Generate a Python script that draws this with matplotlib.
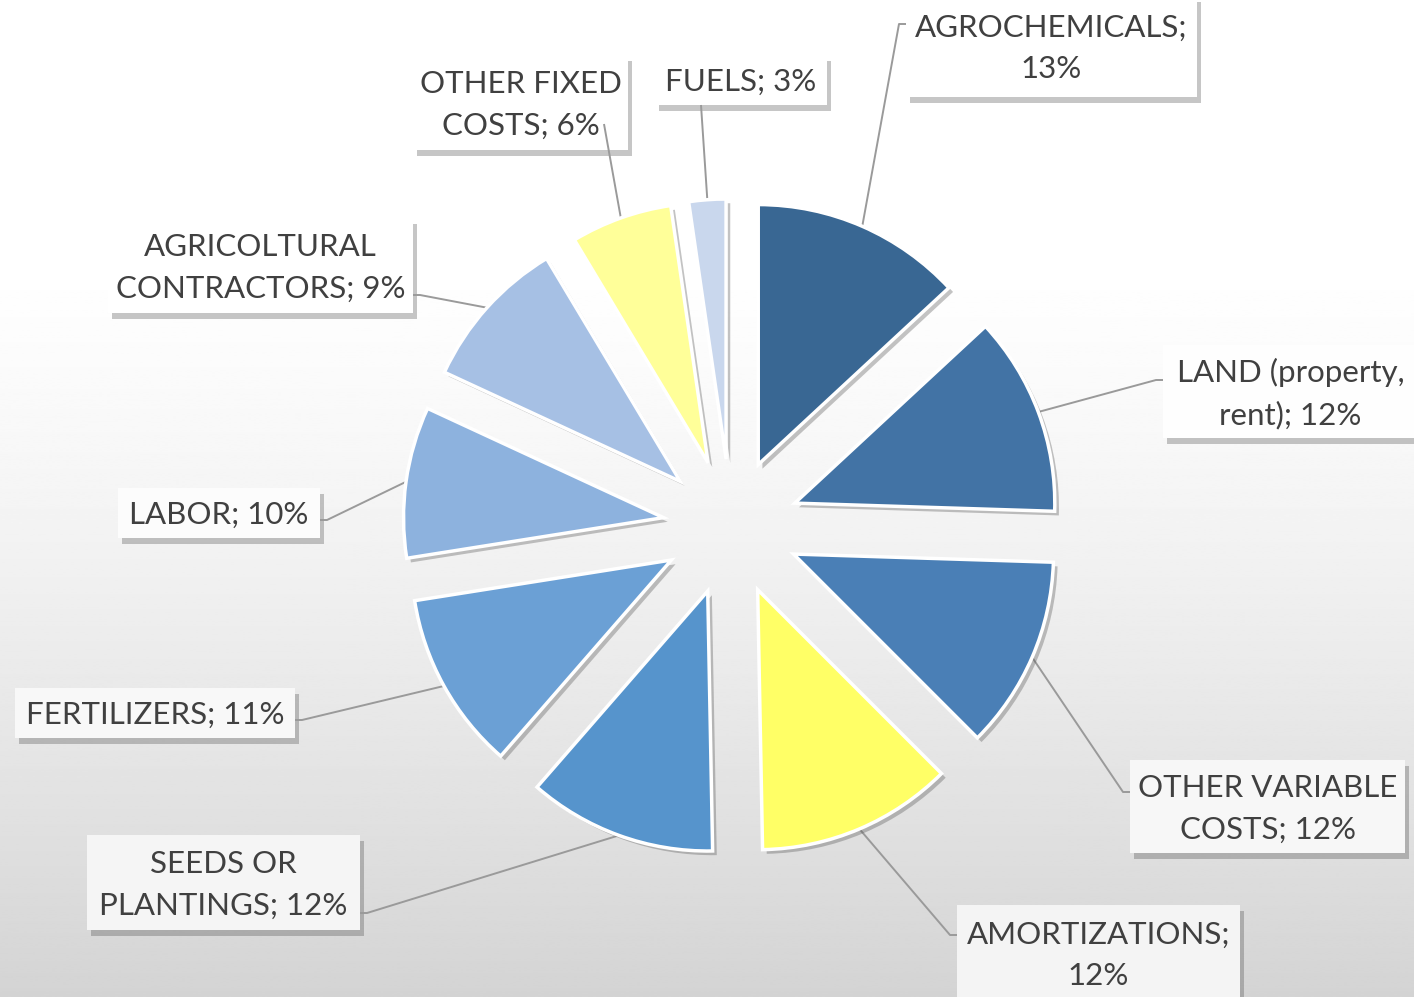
import numpy as np
import matplotlib
matplotlib.use('Agg')
import matplotlib.pyplot as plt
import matplotlib.patheffects as pe
from matplotlib.patches import Rectangle

plt.rcParams['font.family'] = ['Lato', 'DejaVu Sans']

# data, clockwise from 12 o'clock
names = ['AGROCHEMICALS', 'LAND (property,\nrent)', 'OTHER VARIABLE\nCOSTS', 'AMORTIZATIONS',
         'SEEDS OR\nPLANTINGS', 'FERTILIZERS', 'LABOR', 'AGRICOLTURAL\nCONTRACTORS',
         'OTHER FIXED\nCOSTS', 'FUELS']
# slice sizes as measured from the wedge angles
shares = [13.1, 12.4, 12.0, 12.2, 11.7, 11.1, 9.4, 9.5, 6.3, 2.3]
# percentages as printed on the labels
shown_pct = [13, 12, 12, 12, 12, 11, 10, 9, 6, 3]
pct_sep = ['\n', ' ', ' ', '\n', ' ', ' ', ' ', ' ', ' ', ' ']
colors = ['#396793', '#4273a5', '#4a7fb6', '#ffff66', '#5694cc',
          '#6ba0d5', '#8db2de', '#a6c0e4', '#ffff99', '#c9d7ed']

# label boxes in image pixels: left, top, right, bottom
boxes = [(906, -4, 1197, 97), (1163, 345, 1418, 438), (1130, 760, 1405, 853),
         (957, 905, 1240, 1002), (87, 835, 360, 930), (15, 688, 295, 738),
         (118, 488, 320, 538), (108, 218, 413, 313), (413, 55, 628, 150),
         (655, 55, 827, 105)]
# where each leader line meets its label
anchors = [(906, 24, 'L'), (1163, 380, 'L'), (1130, 792, 'L'), (957, 935, 'L'),
           (360, 913, 'R'), (295, 720, 'R'), (320, 520, 'R'), (413, 295, 'R'),
           (604, 124, 'N'), (701, 105, 'N')]

W, H = 1414, 997


def shade_at(frac):
    return 1 - 0.17 * np.clip((frac - 0.25) / 0.75, 0, 1) ** 1.3


fig = plt.figure(figsize=(W / 100, H / 100), dpi=100)

bg = fig.add_axes([0, 0, 1, 1])
bg.set_xlim(0, W)
bg.set_ylim(H, 0)
bg.axis('off')
t = np.linspace(0, 1, 400)
grad = np.repeat(shade_at(t)[:, None], 2, axis=1)
bg.imshow(grad, cmap='gray', vmin=0, vmax=1, extent=[0, W, H, 0], aspect='auto', zorder=0)

# pie axes: radius 1 = 260 px, centred at (731, 527) image px
R = 260
cx, cy = 731, 527
L = 1.6
ax = fig.add_axes([(cx - L * R) / W, (H - cy - L * R) / H, 2 * L * R / W, 2 * L * R / H])
wedges, _ = ax.pie(shares, colors=colors, startangle=90, counterclock=False,
                   explode=[0.262] * len(shares), radius=1,
                   wedgeprops=dict(edgecolor='white', linewidth=2.5))
for w in wedges:
    w.set_path_effects([pe.SimplePatchShadow(offset=(3, -3), shadow_rgbFace='#555555', alpha=0.35),
                        pe.Normal()])
ax.set_xlim(-L, L)
ax.set_ylim(-L, L)
ax.set_aspect('equal')
ax.axis('off')
ax.patch.set_alpha(0)

fig.canvas.draw()
to_bg = ax.transData + bg.transData.inverted()

for w, name, v, sep, box, anc in zip(wedges, names, shown_pct, pct_sep, boxes, anchors):
    mid = np.deg2rad((w.theta1 + w.theta2) / 2)
    px, py = to_bg.transform((w.center[0] + w.r * np.cos(mid), w.center[1] + w.r * np.sin(mid)))
    ex, ey, side = anc
    if side == 'L':
        xs, ys = [px, ex - 7, ex], [py, ey, ey]
    elif side == 'R':
        xs, ys = [px, ex + 7, ex], [py, ey, ey]
    else:
        xs, ys = [px, ex], [py, ey]
    bg.plot(xs, ys, color='#9a9a9a', lw=1.4, zorder=5, solid_capstyle='butt')

    x0, y0, x1, y1 = box
    # box is a light veil over the background
    fill = 0.72 + 0.28 * shade_at((y0 + y1) / 2 / H)
    rect = Rectangle((x0, y0), x1 - x0, y1 - y0, facecolor=str(min(fill, 1.0)),
                     edgecolor='none', zorder=3)
    rect.set_path_effects([pe.SimplePatchShadow(offset=(3, -4), shadow_rgbFace='#444444', alpha=0.3),
                           pe.Normal()])
    bg.add_patch(rect)
    bg.text((x0 + x1) / 2, (y0 + y1) / 2 + 2, f'{name};{sep}{v}%', ha='center', va='center',
            fontsize=22.5, color='#404040', linespacing=1.6, zorder=4)

fig.savefig('out.png', dpi=100)
